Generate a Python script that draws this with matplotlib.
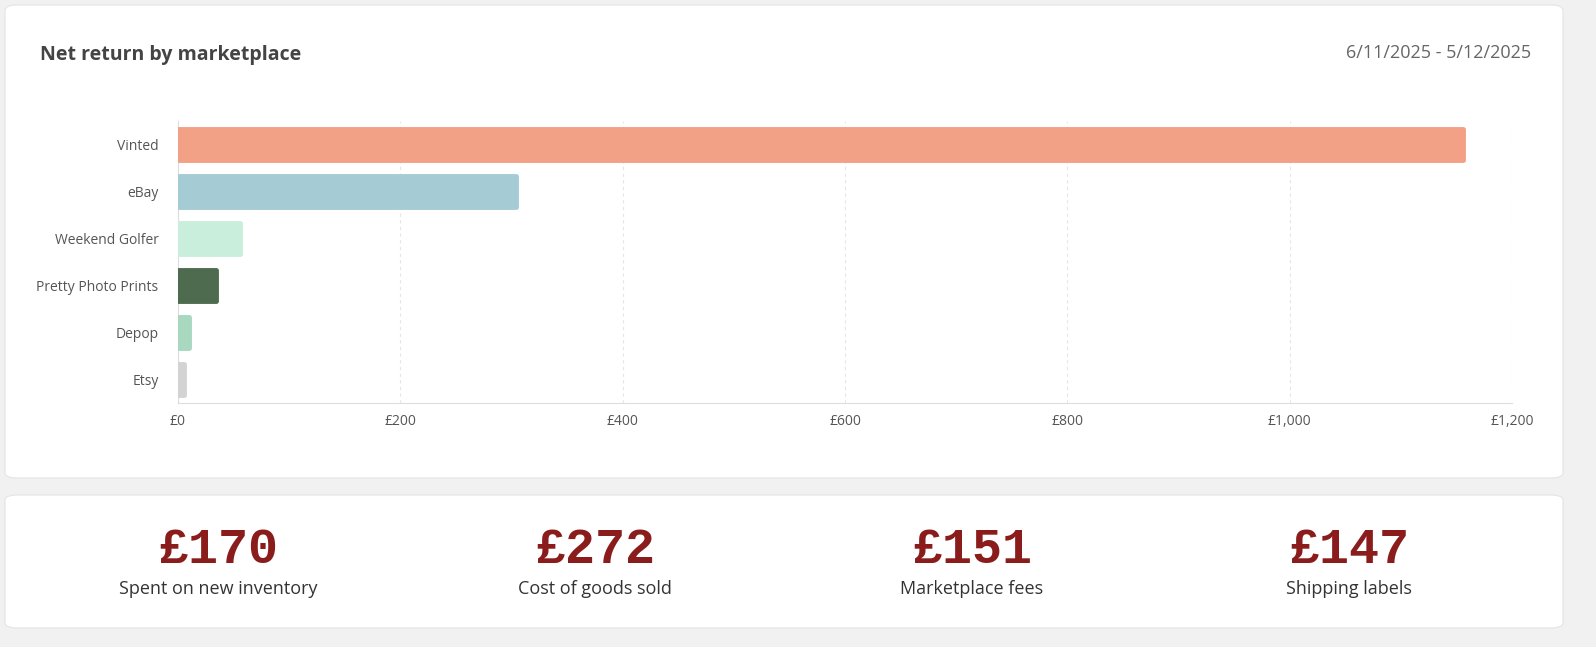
import matplotlib
matplotlib.use("Agg")
import matplotlib.pyplot as plt
from matplotlib.patches import FancyBboxPatch

categories = ["Vinted", "eBay", "Weekend Golfer", "Pretty Photo Prints", "Depop", "Etsy"]
values = [1156, 304, 56, 34, 10, 5]
colors = ["#f2a086", "#a5cbd4", "#c9efdc", "#4e6b4f", "#a8d8c0", "#d3d3d3"]
xticks = [0, 200, 400, 600, 800, 1000, 1200]
xtick_labels = ["£0", "£200", "£400", "£600", "£800", "£1,000", "£1,200"]
kpi_values = ["£170", "£272", "£151", "£147"]
kpi_labels = ["Spent on new inventory", "Cost of goods sold", "Marketplace fees", "Shipping labels"]

W, H = 1596, 647
fig = plt.figure(figsize=(W/100, H/100), dpi=100)
fig.patch.set_facecolor("#f1f1f1")

def card(x0, y0, x1, y1):
    p = FancyBboxPatch((x0/W, 1-y1/H), (x1-x0)/W, (y1-y0)/H,
                       boxstyle="round,pad=0,rounding_size=0.008",
                       transform=fig.transFigure, facecolor="white",
                       edgecolor="#e4e4e4", linewidth=0.8, zorder=-5)
    fig.patches.append(p)

card(5, 5, 1563, 478)
card(5, 495, 1563, 628)

font = "Open Sans"
fig.text(40/W, 1-55/H, "Net return by marketplace", fontsize=14, fontweight="bold",
         color="#444444", family=font, va="center")
fig.text(1531/W, 1-53/H, "6/11/2025 - 5/12/2025", fontsize=13, color="#666666",
         family=font, va="center", ha="right")

ax = fig.add_axes([178/W, 1-403/H, (1512-178)/W, (403-121)/H])
ax.set_zorder(2)
ax.set_facecolor("none")
ypos = list(range(len(categories)))
ax.barh(ypos, values, height=0.66, color=colors, edgecolor=colors,
        linewidth=3.5, joinstyle="round", zorder=3)
ax.set_ylim(len(categories)-0.5, -0.5)
ax.set_xlim(0, 1200)
ax.set_yticks(ypos)
ax.set_yticklabels(categories, fontsize=10, color="#555555", family=font)
ax.set_xticks(xticks)
ax.set_xticklabels(xtick_labels, fontsize=10, color="#555555", family=font)
ax.tick_params(length=0, pad=14)
ax.tick_params(axis="x", pad=8)
ax.grid(axis="x", color="#e6e6e6", linewidth=0.8, linestyle=(0, (3, 3)), zorder=0)
for s in ["top", "right"]:
    ax.spines[s].set_visible(False)
ax.spines["left"].set_color("#dddddd")
ax.spines["bottom"].set_color("#dddddd")

centers = [218, 595, 972, 1349]
for c, v, l in zip(centers, kpi_values, kpi_labels):
    fig.text(c/W, 1-550/H, v, fontsize=36, fontweight="bold", color="#8b1c1c",
             family="Liberation Mono", ha="center", va="center")
    fig.text(c/W, 1-589/H, l, fontsize=13, color="#333333", family=font,
             ha="center", va="center")

fig.savefig("out.png", dpi=100, facecolor=fig.get_facecolor())
